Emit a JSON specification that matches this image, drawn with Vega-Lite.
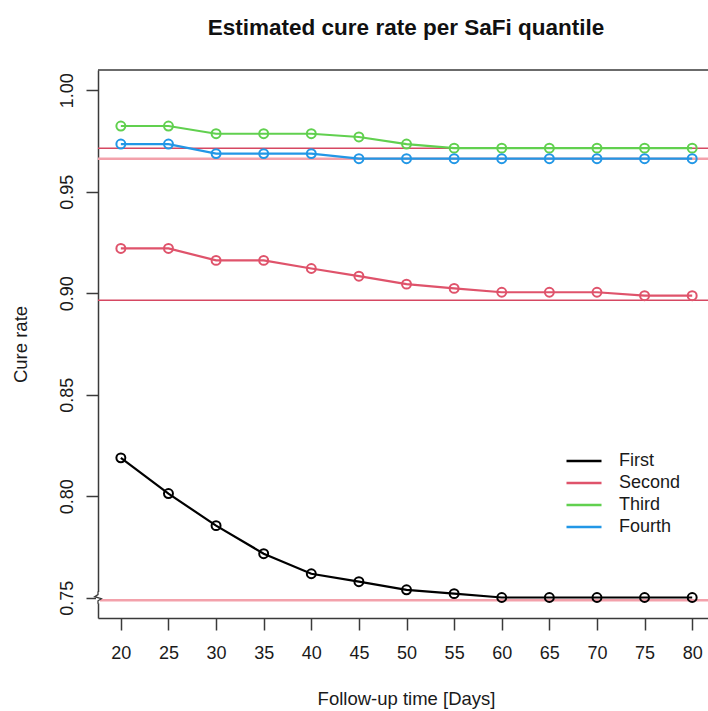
{
  "$schema": "https://vega.github.io/schema/vega-lite/v6.json",
  "width": 610,
  "height": 548,
  "autosize": "none",
  "padding": {"left": 98, "top": 70, "right": 0, "bottom": 93},
  "background": "white",
  "config": {
    "font": "Liberation Sans",
    "view": {"stroke": null},
    "axis": {
      "domainColor": "#3a3a3a",
      "domainWidth": 1.5,
      "tickColor": "#3a3a3a",
      "tickWidth": 1.5,
      "tickSize": 12,
      "labelColor": "#1a1a1a",
      "labelFontSize": 18,
      "titleColor": "#1a1a1a",
      "titleFontSize": 18.5,
      "titleFontWeight": "normal",
      "grid": false
    }
  },
  "title": {
    "text": "Estimated cure rate per SaFi quantile",
    "anchor": "middle",
    "frame": "group",
    "fontSize": 22.5,
    "fontWeight": "bold",
    "color": "#111111",
    "offset": 30,
    "dx": 3
  },
  "datasets": {
    "curves": [
      {"day": 20, "group": "First", "rate": 0.8189},
      {"day": 25, "group": "First", "rate": 0.8013},
      {"day": 30, "group": "First", "rate": 0.7855},
      {"day": 35, "group": "First", "rate": 0.7717},
      {"day": 40, "group": "First", "rate": 0.7618},
      {"day": 45, "group": "First", "rate": 0.7579},
      {"day": 50, "group": "First", "rate": 0.7539},
      {"day": 55, "group": "First", "rate": 0.7520},
      {"day": 60, "group": "First", "rate": 0.7501},
      {"day": 65, "group": "First", "rate": 0.7501},
      {"day": 70, "group": "First", "rate": 0.7501},
      {"day": 75, "group": "First", "rate": 0.7501},
      {"day": 80, "group": "First", "rate": 0.7501},
      {"day": 20, "group": "Second", "rate": 0.9221},
      {"day": 25, "group": "Second", "rate": 0.9221},
      {"day": 30, "group": "Second", "rate": 0.9162},
      {"day": 35, "group": "Second", "rate": 0.9162},
      {"day": 40, "group": "Second", "rate": 0.9122},
      {"day": 45, "group": "Second", "rate": 0.9084},
      {"day": 50, "group": "Second", "rate": 0.9045},
      {"day": 55, "group": "Second", "rate": 0.9024},
      {"day": 60, "group": "Second", "rate": 0.9005},
      {"day": 65, "group": "Second", "rate": 0.9005},
      {"day": 70, "group": "Second", "rate": 0.9005},
      {"day": 75, "group": "Second", "rate": 0.8988},
      {"day": 80, "group": "Second", "rate": 0.8988},
      {"day": 20, "group": "Third", "rate": 0.9824},
      {"day": 25, "group": "Third", "rate": 0.9824},
      {"day": 30, "group": "Third", "rate": 0.9786},
      {"day": 35, "group": "Third", "rate": 0.9786},
      {"day": 40, "group": "Third", "rate": 0.9786},
      {"day": 45, "group": "Third", "rate": 0.9770},
      {"day": 50, "group": "Third", "rate": 0.9735},
      {"day": 55, "group": "Third", "rate": 0.9715},
      {"day": 60, "group": "Third", "rate": 0.9715},
      {"day": 65, "group": "Third", "rate": 0.9715},
      {"day": 70, "group": "Third", "rate": 0.9715},
      {"day": 75, "group": "Third", "rate": 0.9715},
      {"day": 80, "group": "Third", "rate": 0.9715},
      {"day": 20, "group": "Fourth", "rate": 0.9735},
      {"day": 25, "group": "Fourth", "rate": 0.9735},
      {"day": 30, "group": "Fourth", "rate": 0.9688},
      {"day": 35, "group": "Fourth", "rate": 0.9688},
      {"day": 40, "group": "Fourth", "rate": 0.9688},
      {"day": 45, "group": "Fourth", "rate": 0.9663},
      {"day": 50, "group": "Fourth", "rate": 0.9663},
      {"day": 55, "group": "Fourth", "rate": 0.9663},
      {"day": 60, "group": "Fourth", "rate": 0.9663},
      {"day": 65, "group": "Fourth", "rate": 0.9663},
      {"day": 70, "group": "Fourth", "rate": 0.9663},
      {"day": 75, "group": "Fourth", "rate": 0.9663},
      {"day": 80, "group": "Fourth", "rate": 0.9663}
    ],
    "plateaus": [
      {"group": "First", "cure": 0.7487},
      {"group": "Second", "cure": 0.8966},
      {"group": "Third", "cure": 0.9714},
      {"group": "Fourth", "cure": 0.9663}
    ],
    "axisBreak": [
      {"step": 1, "day": 17.6, "rate": 0.7530},
      {"step": 2, "day": 17.6, "rate": 0.7515},
      {"step": 3, "day": 17.25, "rate": 0.7505},
      {"step": 4, "day": 17.95, "rate": 0.7495},
      {"step": 5, "day": 17.6, "rate": 0.7485},
      {"step": 6, "day": 17.6, "rate": 0.7470}
    ]
  },
  "layer": [
    {
      "data": {"name": "plateaus"},
      "transform": [{"filter": "datum.group === 'First' || datum.group === 'Fourth'"}],
      "mark": {"type": "rule", "color": "#F3A1AB", "strokeWidth": 2.5},
      "encoding": {
        "y": {"field": "cure", "type": "quantitative", "scale": {"domain": [0.74, 1.01], "nice": false, "zero": false}}
      }
    },
    {
      "data": {"name": "plateaus"},
      "transform": [{"filter": "datum.group === 'Second' || datum.group === 'Third'"}],
      "mark": {"type": "rule", "color": "#D64862", "strokeWidth": 1.5},
      "encoding": {
        "y": {"field": "cure", "type": "quantitative"}
      }
    },
    {
      "data": {"values": [{"top": 1.01}]},
      "mark": {"type": "rule", "color": "#3a3a3a", "strokeWidth": 1.5},
      "encoding": {
        "y": {"field": "top", "type": "quantitative"}
      }
    },
    {
      "data": {"name": "curves"},
      "mark": {
        "type": "line",
        "strokeWidth": 2.2,
        "point": {"filled": false, "size": 80, "strokeWidth": 2}
      },
      "encoding": {
        "x": {
          "field": "day",
          "type": "quantitative",
          "scale": {"domain": [17.6, 81.66], "nice": false, "zero": false},
          "axis": {
            "values": [20, 25, 30, 35, 40, 45, 50, 55, 60, 65, 70, 75, 80],
            "labelPadding": 14,
            "labelFlush": false,
            "labelOverlap": false,
            "title": "Follow-up time [Days]",
            "titleX": 308,
            "titleY": 80,
            "titleAlign": "center",
            "titleBaseline": "middle"
          }
        },
        "y": {
          "field": "rate",
          "type": "quantitative",
          "axis": {
            "values": [0.75, 0.8, 0.85, 0.9, 0.95, 1.0],
            "format": ".2f",
            "labelAngle": -90,
            "labelAlign": "center",
            "labelBaseline": "bottom",
            "labelPadding": 10,
            "labelFlush": false,
            "labelOverlap": false,
            "title": "Cure rate",
            "titleAngle": -90,
            "titleX": -78,
            "titleY": 274,
            "titleAlign": "center",
            "titleBaseline": "middle"
          }
        },
        "color": {
          "field": "group",
          "type": "nominal",
          "scale": {
            "domain": ["First", "Second", "Third", "Fourth"],
            "range": ["#000000", "#DF536B", "#61D04F", "#2297E6"]
          },
          "legend": {
            "title": null,
            "orient": "none",
            "legendX": 467,
            "legendY": 380,
            "padding": 0,
            "symbolType": "stroke",
            "symbolSize": 1225,
            "symbolStrokeWidth": 2.5,
            "labelFontSize": 18,
            "labelColor": "#1a1a1a",
            "labelOffset": 16,
            "clipHeight": 22,
            "rowPadding": 0
          }
        }
      }
    },
    {
      "data": {"values": [{"rate": 0.7472, "rate2": 0.7528}]},
      "mark": {"type": "rule", "color": "white", "strokeWidth": 4, "clip": false},
      "encoding": {
        "x": {"datum": 17.6},
        "y": {"field": "rate", "type": "quantitative"},
        "y2": {"field": "rate2"}
      }
    },
    {
      "data": {"name": "axisBreak"},
      "mark": {"type": "line", "color": "#3a3a3a", "strokeWidth": 1.3, "clip": false},
      "encoding": {
        "x": {"field": "day", "type": "quantitative"},
        "y": {"field": "rate", "type": "quantitative"},
        "order": {"field": "step"}
      }
    }
  ]
}
